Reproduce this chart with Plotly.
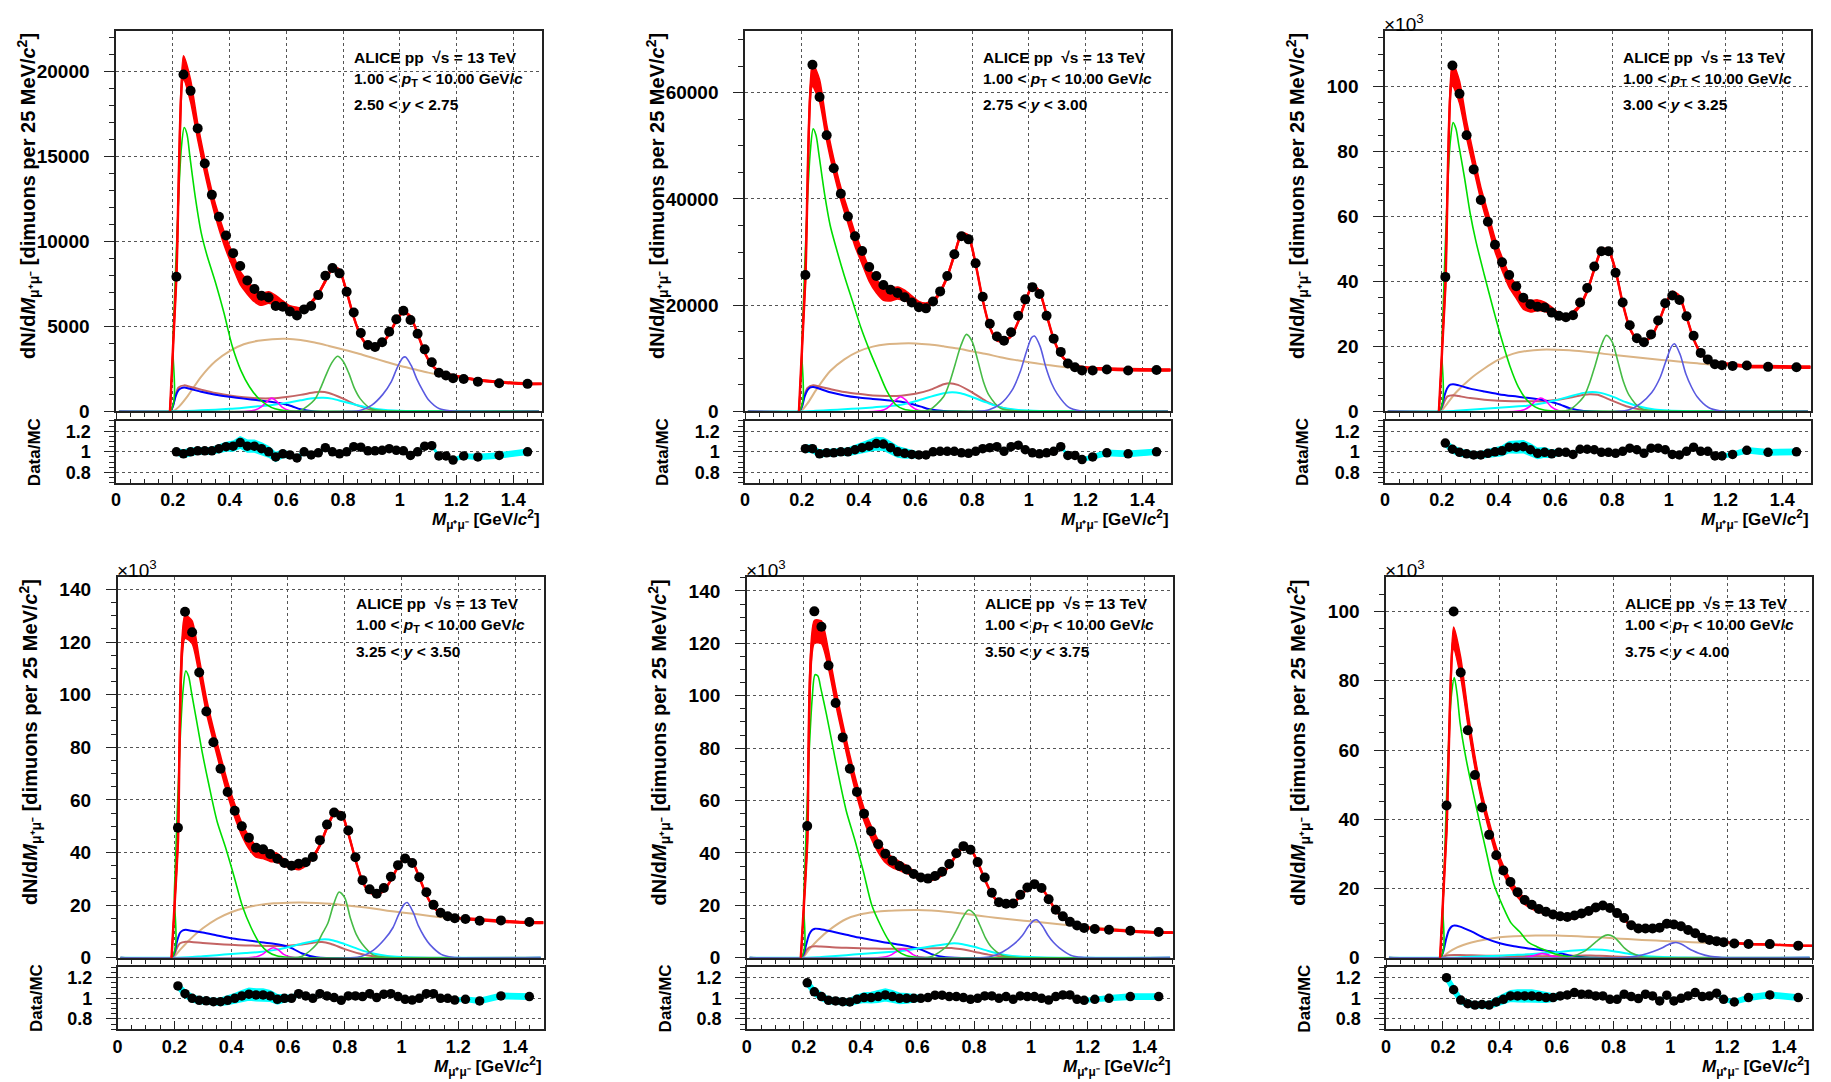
import plotly.graph_objects as go

# ---------------------------------------------------------------------------
# Dimuon invariant-mass spectra, pp at sqrt(s) = 13 TeV, six rapidity bins.
# All yields are in units of 10^3 dimuons per 25 MeV/c^2.
# ---------------------------------------------------------------------------

MASS_BINS = [0.2125, 0.2375, 0.2625, 0.2875, 0.3125, 0.3375, 0.3625, 0.3875, 0.4125, 0.4375,
             0.4625, 0.4875, 0.5125, 0.5375, 0.5625, 0.5875, 0.6125, 0.6375, 0.6625, 0.6875,
             0.7125, 0.7375, 0.7625, 0.7875, 0.8125, 0.8375, 0.8625, 0.8875, 0.9125, 0.9375,
             0.9625, 0.9875, 1.0125, 1.0375, 1.0625, 1.0875, 1.1125, 1.1375, 1.1625, 1.1875,
             1.225, 1.275, 1.35, 1.45]

RAPIDITY_LABELS = ["2.50 &lt; <i>y</i> &lt; 2.75", "2.75 &lt; <i>y</i> &lt; 3.00",
                   "3.00 &lt; <i>y</i> &lt; 3.25", "3.25 &lt; <i>y</i> &lt; 3.50",
                   "3.50 &lt; <i>y</i> &lt; 3.75", "3.75 &lt; <i>y</i> &lt; 4.00"]

# measured spectra
p1_data = [7.92, 19.82, 18.86, 16.65, 14.58, 12.74, 11.45, 10.35, 9.31, 8.55, 7.70, 7.20, 6.80, 6.70, 6.20,
           6.16, 5.88, 5.64, 6.00, 6.20, 6.84, 7.98, 8.43, 8.12, 7.04, 5.82, 4.61, 3.91, 3.79, 4.07, 4.69,
           5.42, 5.92, 5.38, 4.57, 3.65, 2.89, 2.27, 2.11, 1.95, 1.91, 1.75, 1.66, 1.62]
p2_data = [25.7, 65.3, 59.2, 52.0, 45.8, 41.0, 36.7, 33.0, 30.2, 27.2, 25.5, 23.8, 22.9, 22.3, 21.5, 20.5,
           19.6, 19.4, 20.7, 22.6, 25.5, 29.6, 33.0, 32.4, 27.9, 21.6, 16.5, 14.1, 13.3, 14.9, 18.0, 21.1,
           23.4, 22.1, 18.0, 13.7, 11.2, 9.0, 8.3, 7.7, 7.7, 7.9, 7.7, 7.8]
p3_data = [41.4, 106.5, 97.8, 85.0, 74.5, 65.1, 58.4, 51.3, 45.9, 42.0, 38.5, 35.0, 33.0, 32.2, 32.0, 30.4,
           29.4, 29.0, 29.6, 33.5, 38.0, 44.6, 49.3, 49.3, 42.7, 33.5, 26.5, 22.5, 21.3, 23.7, 28.0, 33.3,
           35.7, 34.3, 29.3, 23.3, 18.0, 16.0, 14.5, 14.2, 14.0, 14.1, 13.7, 13.6]
p4_data = [49.4, 131.5, 123.7, 108.4, 93.6, 81.9, 71.8, 63.0, 55.9, 50.0, 45.6, 41.8, 41.2, 39.4, 37.6, 36.0,
           35.0, 35.7, 36.3, 38.3, 44.7, 50.6, 55.2, 53.9, 48.4, 38.2, 29.5, 26.0, 24.3, 26.5, 30.8, 35.2,
           37.7, 36.0, 30.6, 24.9, 20.1, 17.1, 15.8, 15.0, 14.7, 14.1, 14.2, 13.6]
p5_data = [50.3, 132.2, 126.3, 111.5, 97.2, 84.1, 72.1, 63.3, 55.0, 48.3, 43.3, 39.7, 37.0, 35.0, 33.7, 32.0,
           30.6, 30.2, 31.2, 32.8, 35.8, 39.9, 42.6, 41.2, 36.5, 30.6, 24.8, 21.2, 20.6, 20.7, 24.0, 26.8,
           28.1, 26.6, 22.3, 18.3, 15.8, 13.7, 12.3, 11.4, 11.0, 10.7, 10.3, 9.8]
p6_data = [44.0, 100.0, 82.4, 65.7, 52.8, 43.4, 35.5, 29.6, 25.2, 21.9, 18.9, 16.7, 15.3, 14.1, 13.3, 12.5,
           12.0, 11.8, 12.2, 12.8, 13.5, 14.5, 15.1, 14.4, 12.9, 11.5, 9.4, 8.45, 8.45, 8.45, 8.7, 9.8,
           9.6, 9.1, 8.0, 7.1, 5.75, 5.15, 4.8, 4.5, 4.1, 4.0, 3.95, 3.5]

# data / MC ratios
p1_ratio = [1.0, 0.98, 1.0, 1.01, 1.01, 1.01, 1.03, 1.05, 1.055, 1.09, 1.055, 1.055, 1.03, 1.0, 0.95, 0.98,
            0.97, 0.94, 1.0, 0.97, 0.99, 1.04, 1.0, 0.98, 1.0, 1.05, 1.045, 1.01, 1.01, 1.015, 1.03, 1.015,
            1.01, 0.965, 1.0, 1.055, 1.06, 0.96, 0.96, 0.92, 0.96, 0.95, 0.965, 1.0]
p2_ratio = [1.03, 1.03, 0.98, 0.99, 0.99, 1.0, 1.0, 1.02, 1.04, 1.055, 1.08, 1.075, 1.04, 1.0, 0.985, 0.975,
            0.97, 0.97, 1.0, 1.005, 1.005, 1.005, 0.99, 0.985, 1.005, 1.03, 1.04, 1.05, 1.005, 1.05, 1.065,
            1.02, 0.99, 0.98, 0.99, 1.005, 1.05, 0.965, 0.965, 0.925, 0.95, 0.99, 0.98, 1.0]
p3_ratio = [1.085, 1.025, 0.995, 0.98, 0.97, 0.97, 0.985, 1.0, 1.01, 1.045, 1.045, 1.05, 1.02, 0.985, 0.995,
            0.98, 0.995, 0.995, 0.975, 1.025, 1.025, 1.02, 0.995, 0.995, 0.985, 1.005, 1.035, 1.02, 0.985,
            1.035, 1.035, 1.02, 0.975, 0.97, 1.005, 1.045, 1.005, 1.005, 0.96, 0.96, 0.975, 1.015, 0.995, 1.0]
p4_ratio = [1.12, 1.045, 1.0, 0.98, 0.975, 0.967, 0.967, 0.98, 1.0, 1.023, 1.04, 1.033, 1.033, 1.023, 0.99,
            1.0, 1.0, 1.045, 1.023, 1.0, 1.045, 1.023, 1.007, 0.98, 1.023, 1.023, 1.017, 1.045, 1.007, 1.04,
            1.045, 1.017, 0.99, 0.983, 1.0, 1.045, 1.045, 1.0, 1.0, 0.983, 0.99, 0.974, 1.023, 1.017]
p5_ratio = [1.15, 1.063, 1.017, 0.98, 0.974, 0.967, 0.964, 0.99, 1.007, 1.007, 1.017, 1.033, 1.017, 1.0, 1.0,
            1.0, 1.0, 1.007, 1.03, 1.03, 1.017, 1.017, 1.007, 0.99, 1.0, 1.023, 1.023, 1.0, 1.017, 0.99,
            1.023, 1.017, 1.017, 1.0, 0.983, 1.017, 1.033, 1.033, 0.99, 0.98, 0.99, 1.0, 1.017, 1.017]
p6_ratio = [1.2, 1.083, 0.983, 0.947, 0.934, 0.94, 0.934, 0.964, 0.99, 1.023, 1.023, 1.023, 1.023, 1.017,
            1.007, 1.007, 1.023, 1.033, 1.056, 1.04, 1.04, 1.023, 1.023, 0.99, 0.99, 1.04, 1.017, 0.997,
            1.04, 1.023, 0.974, 1.03, 0.974, 1.0, 1.023, 1.056, 1.017, 1.023, 1.05, 0.99, 0.964, 1.007,
            1.033, 1.007]

# relative uncertainty of the MC cocktail sum, per mass bin
MC_REL_UNC = [0.03, 0.035, 0.035, 0.03, 0.03, 0.03, 0.035, 0.04, 0.045, 0.05, 0.055, 0.055, 0.055, 0.05,
              0.045, 0.035, 0.025, 0.02, 0.015, 0.012,
              0.01, 0.01, 0.01, 0.01, 0.01, 0.01, 0.01, 0.01, 0.01, 0.01, 0.01, 0.01, 0.01, 0.01, 0.01,
              0.01, 0.01,
              0.012, 0.012, 0.015, 0.02, 0.025, 0.025, 0.025]

# --- cocktail components (mass knots shared by all rapidity bins) ----------
ETA_DALITZ_X = [0.01, 0.19, 0.20, 0.21, 0.22, 0.23, 0.24, 0.25, 0.26, 0.28, 0.30, 0.32, 0.35, 0.38, 0.41,
                0.44, 0.47, 0.50, 0.53, 0.56, 0.60, 0.65, 1.49]
p1_eta_dalitz = [0, 0, 4.0, 8.5, 12.5, 15.5, 16.7, 16.3, 15.0, 12.5, 10.5, 9.2, 7.6, 5.8, 3.8, 2.4, 1.45, 0.8, 0.4, 0.15, 0.03, 0, 0]
p2_eta_dalitz = [0, 0, 12, 27, 40, 49, 53.2, 52, 48.5, 41, 35, 31, 25.5, 20.5, 15.5, 11.3, 7.5, 3.8, 1.3, 0.4, 0.1, 0, 0]
p3_eta_dalitz = [0, 0, 20, 45, 68, 83, 88.9, 87, 82, 72, 61, 52.5, 42, 32, 22.5, 14, 7.5, 3.5, 1.3, 0.4, 0.1, 0, 0]
p4_eta_dalitz = [0, 0, 25, 55, 82, 101, 109, 107, 101, 89, 77, 66.5, 52, 42, 31, 19.5, 11.5, 5.5, 2.2, 0.8, 0.2, 0, 0]
p5_eta_dalitz = [0, 0, 22, 52, 80, 99, 108, 107.5, 103, 93, 82, 71, 56, 45, 33, 20, 12.5, 6.5, 2.6, 0.9, 0.2, 0, 0]
p6_eta_dalitz = [0, 0, 15, 40, 62, 76, 80.9, 76, 68, 58, 50, 42.5, 31.5, 21, 15, 10, 7.5, 4.5, 3.2, 2.2, 1.0, 0.3, 0]

OPEN_HF_X = [0.01, 0.19, 0.20, 0.22, 0.25, 0.30, 0.35, 0.40, 0.45, 0.50, 0.55, 0.60, 0.65, 0.70, 0.75, 0.80,
             0.85, 0.90, 0.95, 1.00, 1.05, 1.10, 1.15, 1.20, 1.30, 1.40, 1.49]
p1_open_hf = [0, 0, 0.0, 0.25, 0.85, 2.05, 2.95, 3.55, 3.95, 4.15, 4.25, 4.27, 4.2, 4.05, 3.85, 3.64, 3.42, 3.17, 2.92, 2.68, 2.48, 2.28, 2.12, 2.0, 1.81, 1.72, 1.63]
p2_open_hf = [0, 0, 0.2, 1.5, 4.0, 7.6, 9.8, 11.3, 12.2, 12.65, 12.8, 12.8, 12.6, 12.25, 11.85, 11.3, 10.8, 10.2, 9.7, 9.25, 8.85, 8.5, 8.2, 8.0, 7.85, 7.75, 7.7]
p3_open_hf = [0, 0, 0.3, 2.5, 5.8, 10.0, 13.2, 15.9, 17.7, 18.6, 19.0, 19.0, 18.85, 18.45, 17.95, 17.4, 16.95, 16.5, 16.05, 15.65, 15.2, 14.8, 14.4, 14.1, 13.8, 13.6, 13.5]
p4_open_hf = [0, 0, 0.5, 3.0, 6.5, 11.2, 14.8, 17.3, 19.0, 20.1, 20.7, 20.95, 21.0, 20.8, 20.5, 20.0, 19.4, 18.7, 17.9, 17.2, 16.6, 15.9, 15.3, 14.9, 14.1, 13.5, 13.1]
p5_open_hf = [0, 0, 0.5, 3.3, 6.8, 11.4, 14.8, 16.6, 17.5, 17.95, 18.15, 18.2, 18.0, 17.6, 17.0, 16.3, 15.6, 14.95, 14.4, 13.9, 13.4, 12.8, 12.3, 11.8, 11.0, 10.1, 9.6]
p6_open_hf = [0, 0, 0.3, 1.6, 3.0, 4.4, 5.3, 5.9, 6.2, 6.35, 6.45, 6.45, 6.3, 6.1, 5.9, 5.65, 5.4, 5.15, 4.95, 4.75, 4.6, 4.4, 4.25, 4.1, 3.85, 3.65, 3.5]

OMEGA_DALITZ_X = [0.01, 0.19, 0.20, 0.21, 0.22, 0.23, 0.24, 0.26, 0.30, 0.35, 0.40, 0.45, 0.50, 0.55, 0.60,
                  0.62, 0.65, 0.70, 1.49]
p1_omega_dalitz = [0, 0, 0.3, 0.9, 1.25, 1.37, 1.40, 1.33, 1.15, 0.98, 0.86, 0.75, 0.65, 0.55, 0.40, 0.30, 0.12, 0, 0]
p2_omega_dalitz = [0, 0, 0.8, 2.8, 4.0, 4.5, 4.6, 4.3, 3.6, 3.0, 2.6, 2.35, 2.1, 1.8, 1.2, 0.9, 0.4, 0.05, 0]
p3_omega_dalitz = [0, 0, 1.5, 5.0, 7.3, 8.2, 8.35, 8.0, 7.0, 6.1, 5.3, 4.7, 4.2, 3.6, 2.6, 2.0, 1.0, 0.1, 0]
p4_omega_dalitz = [0, 0, 2.0, 6.5, 9.5, 10.4, 10.6, 10.3, 9.6, 8.5, 7.4, 6.7, 6.0, 5.3, 4.2, 3.3, 1.6, 0.2, 0]
p5_omega_dalitz = [0, 0, 1.5, 5.5, 9.0, 10.6, 11.1, 10.9, 10.0, 8.8, 7.6, 6.6, 5.6, 4.8, 3.6, 2.8, 1.4, 0.2, 0]
p6_omega_dalitz = [0, 0, 1.5, 5.0, 7.8, 9.0, 9.3, 9.0, 7.6, 5.6, 4.2, 3.3, 2.7, 2.2, 1.6, 1.2, 0.6, 0.1, 0]

ETAP_DALITZ_X = [0.01, 0.19, 0.20, 0.21, 0.22, 0.24, 0.26, 0.30, 0.35, 0.40, 0.45, 0.50, 0.55, 0.60, 0.65,
                 0.70, 0.72, 0.75, 0.80, 0.85, 0.90, 0.95, 1.49]
p1_etap_dalitz = [0, 0, 0.3, 1.0, 1.4, 1.53, 1.45, 1.28, 1.08, 0.93, 0.83, 0.77, 0.77, 0.85, 0.97, 1.12, 1.15, 1.08, 0.75, 0.35, 0.1, 0.02, 0]
p2_etap_dalitz = [0, 0, 1.0, 3.2, 4.4, 4.9, 4.7, 4.2, 3.65, 3.3, 3.0, 2.9, 2.95, 3.3, 4.0, 5.1, 5.3, 5.0, 3.6, 1.9, 0.8, 0.2, 0]
p3_etap_dalitz = [0, 0, 1.0, 3.2, 4.6, 5.0, 4.7, 4.1, 3.6, 3.3, 3.15, 3.1, 3.15, 3.5, 4.2, 5.1, 5.3, 5.1, 3.3, 1.6, 0.6, 0.15, 0]
p4_etap_dalitz = [0, 0, 1.2, 4.0, 5.5, 6.1, 6.0, 5.6, 5.2, 4.9, 4.7, 4.55, 4.5, 4.6, 5.0, 5.9, 6.0, 5.3, 3.3, 1.6, 0.6, 0.15, 0]
p5_etap_dalitz = [0, 0, 0.8, 3.0, 4.0, 4.4, 4.3, 4.0, 3.8, 3.6, 3.5, 3.45, 3.45, 3.5, 3.65, 3.75, 3.7, 3.3, 2.3, 1.2, 0.5, 0.1, 0]
p6_etap_dalitz = [0, 0, 0.2, 0.6, 0.75, 0.8, 0.78, 0.7, 0.6, 0.55, 0.5, 0.48, 0.47, 0.5, 0.55, 0.65, 0.68, 0.6, 0.4, 0.2, 0.08, 0.02, 0]

ETA_MUMU_X = [0.01, 0.46, 0.49, 0.51, 0.53, 0.548, 0.565, 0.585, 0.61, 0.64, 1.49]
p1_eta_mumu = [0, 0, 0.08, 0.25, 0.55, 0.78, 0.6, 0.25, 0.05, 0, 0]
p2_eta_mumu = [0, 0, 0.3, 1.0, 2.1, 2.75, 2.2, 1.0, 0.2, 0, 0]
p3_eta_mumu = [0, 0, 0.5, 1.5, 3.2, 4.1, 3.4, 1.5, 0.3, 0, 0]
p4_eta_mumu = [0, 0, 0.4, 1.3, 2.9, 3.8, 3.1, 1.3, 0.3, 0, 0]
p5_eta_mumu = [0, 0, 0.4, 1.2, 2.6, 3.4, 2.8, 1.2, 0.25, 0, 0]
p6_eta_mumu = [0, 0, 0.1, 0.4, 0.9, 1.2, 1.0, 0.4, 0.08, 0, 0]

RHO_X = [0.01, 0.21, 0.25, 0.30, 0.35, 0.40, 0.45, 0.50, 0.55, 0.60, 0.65, 0.70, 0.73, 0.76, 0.80, 0.85,
         0.90, 0.95, 1.00, 1.05, 1.10, 1.49]
p1_rho = [0, 0, 0.02, 0.06, 0.1, 0.15, 0.22, 0.3, 0.38, 0.5, 0.65, 0.78, 0.8, 0.75, 0.58, 0.36, 0.18, 0.08, 0.04, 0.02, 0.01, 0]
p2_rho = [0, 0, 0.1, 0.25, 0.4, 0.55, 0.75, 0.95, 1.25, 1.9, 2.7, 3.4, 3.6, 3.4, 2.7, 1.7, 0.8, 0.35, 0.15, 0.08, 0.03, 0]
p3_rho = [0, 0, 0.2, 0.5, 0.8, 1.1, 1.4, 1.75, 2.4, 3.4, 4.6, 5.7, 6.0, 5.7, 4.6, 2.8, 1.4, 0.6, 0.25, 0.1, 0.05, 0]
p4_rho = [0, 0, 0.2, 0.6, 1.0, 1.4, 1.8, 2.2, 2.9, 4.0, 5.4, 6.6, 7.0, 6.6, 5.2, 3.2, 1.6, 0.7, 0.3, 0.12, 0.05, 0]
p5_rho = [0, 0, 0.2, 0.6, 1.0, 1.4, 1.8, 2.2, 2.7, 3.5, 4.4, 5.2, 5.5, 5.2, 4.2, 2.6, 1.3, 0.6, 0.25, 0.1, 0.05, 0]
p6_rho = [0, 0, 0.1, 0.3, 0.45, 0.6, 0.8, 1.0, 1.3, 1.6, 2.0, 2.3, 2.4, 2.3, 1.9, 1.2, 0.6, 0.3, 0.12, 0.05, 0.02, 0]

OMEGA_X = [0.01, 0.60, 0.65, 0.70, 0.72, 0.74, 0.76, 0.78, 0.80, 0.82, 0.84, 0.86, 0.90, 0.95, 1.49]
p1_omega = [0, 0, 0.05, 0.7, 1.35, 2.15, 2.85, 3.24, 2.95, 2.25, 1.35, 0.75, 0.15, 0.02, 0]
p2_omega = [0, 0, 0.3, 2.8, 5.3, 8.8, 12.3, 14.5, 13.2, 9.6, 5.6, 3.0, 0.6, 0.1, 0]
p3_omega = [0, 0, 0.5, 4.5, 8.5, 14.0, 19.8, 23.4, 21.5, 15.6, 9.2, 5.0, 1.0, 0.15, 0]
p4_omega = [0, 0, 0.6, 5.0, 9.0, 13.0, 20.0, 25.0, 22.8, 15.0, 9.0, 5.4, 1.1, 0.15, 0]
p5_omega = [0, 0, 0.5, 4.0, 7.0, 11.0, 15.3, 18.2, 16.8, 12.5, 7.6, 4.2, 0.9, 0.12, 0]
p6_omega = [0, 0, 0.3, 2.0, 3.3, 4.7, 6.0, 6.6, 6.1, 4.5, 2.7, 1.5, 0.3, 0.05, 0]

PHI_X = [0.01, 0.82, 0.86, 0.90, 0.94, 0.97, 0.99, 1.01, 1.02, 1.04, 1.06, 1.08, 1.10, 1.14, 1.18, 1.25, 1.49]
p1_phi = [0, 0, 0.05, 0.35, 1.0, 1.75, 2.55, 3.15, 3.2, 2.7, 1.9, 1.25, 0.7, 0.15, 0.03, 0, 0]
p2_phi = [0, 0, 0.3, 1.4, 3.9, 7.5, 11.0, 13.9, 14.2, 12.2, 8.3, 5.3, 3.3, 0.8, 0.1, 0, 0]
p3_phi = [0, 0, 0.5, 2.4, 5.8, 10.5, 15.5, 20.0, 20.8, 17.5, 11.6, 7.5, 4.5, 1.2, 0.2, 0, 0]
p4_phi = [0, 0, 0.6, 2.8, 7.0, 11.5, 16.5, 20.4, 21.0, 17.5, 12.0, 8.0, 5.0, 1.3, 0.2, 0, 0]
p5_phi = [0, 0, 0.5, 2.2, 5.2, 8.5, 11.8, 14.2, 14.5, 12.2, 8.6, 5.8, 3.8, 1.0, 0.15, 0, 0]
p6_phi = [0, 0, 0.2, 0.8, 1.8, 2.8, 3.7, 4.3, 4.4, 3.9, 2.9, 2.0, 1.3, 0.4, 0.08, 0, 0]

# ---------------------------------------------------------------------------
W, H = 1831, 1082
FONT = "Liberation Sans"

# pixel boxes: left, right, main top, main bottom, ratio top, ratio bottom
BOXES = [
    (111.4, 538.2, 31.0, 415.6, 425.3, 487.6),
    (742.1, 1168.9, 31.0, 415.6, 425.3, 487.6),
    (1383.8, 1810.6, 31.0, 415.6, 425.3, 487.6),
    (112.9, 540.0, 583.2, 967.6, 977.3, 1039.8),
    (743.9, 1171.1, 583.2, 967.6, 977.3, 1039.8),
    (1384.9, 1812.4, 583.2, 967.6, 977.3, 1039.8),
]
Y_MAX = [22.4, 71.7, 117.2, 144.6, 145.2, 109.9]
Y_MAJOR = [5, 20, 20, 20, 20, 20]
Y_MINOR = [1, 5, 5, 5, 5, 5]

COMPONENT_STYLE = [
    # name, knots, colour, width
    ("open_hf", OPEN_HF_X, "#dbb485", 2.0),
    ("etap_dalitz", ETAP_DALITZ_X, "#c46464", 2.0),
    ("omega_dalitz", OMEGA_DALITZ_X, "#0000ff", 2.0),
    ("rho", RHO_X, "#00ffff", 2.0),
    ("eta_mumu", ETA_MUMU_X, "#ff00ff", 1.6),
    ("eta_dalitz", ETA_DALITZ_X, "#00dd00", 1.6),
    ("omega", OMEGA_X, "#46bb46", 1.6),
    ("phi", PHI_X, "#5a5ae0", 1.6),
]

panel_values = [
    dict(data=p1_data, ratio=p1_ratio, eta_dalitz=p1_eta_dalitz, open_hf=p1_open_hf, omega_dalitz=p1_omega_dalitz,
         etap_dalitz=p1_etap_dalitz, eta_mumu=p1_eta_mumu, rho=p1_rho, omega=p1_omega, phi=p1_phi),
    dict(data=p2_data, ratio=p2_ratio, eta_dalitz=p2_eta_dalitz, open_hf=p2_open_hf, omega_dalitz=p2_omega_dalitz,
         etap_dalitz=p2_etap_dalitz, eta_mumu=p2_eta_mumu, rho=p2_rho, omega=p2_omega, phi=p2_phi),
    dict(data=p3_data, ratio=p3_ratio, eta_dalitz=p3_eta_dalitz, open_hf=p3_open_hf, omega_dalitz=p3_omega_dalitz,
         etap_dalitz=p3_etap_dalitz, eta_mumu=p3_eta_mumu, rho=p3_rho, omega=p3_omega, phi=p3_phi),
    dict(data=p4_data, ratio=p4_ratio, eta_dalitz=p4_eta_dalitz, open_hf=p4_open_hf, omega_dalitz=p4_omega_dalitz,
         etap_dalitz=p4_etap_dalitz, eta_mumu=p4_eta_mumu, rho=p4_rho, omega=p4_omega, phi=p4_phi),
    dict(data=p5_data, ratio=p5_ratio, eta_dalitz=p5_eta_dalitz, open_hf=p5_open_hf, omega_dalitz=p5_omega_dalitz,
         etap_dalitz=p5_etap_dalitz, eta_mumu=p5_eta_mumu, rho=p5_rho, omega=p5_omega, phi=p5_phi),
    dict(data=p6_data, ratio=p6_ratio, eta_dalitz=p6_eta_dalitz, open_hf=p6_open_hf, omega_dalitz=p6_omega_dalitz,
         etap_dalitz=p6_etap_dalitz, eta_mumu=p6_eta_mumu, rho=p6_rho, omega=p6_omega, phi=p6_phi),
]

for pv in panel_values:
    assert len(pv["data"]) == len(MASS_BINS) and len(pv["ratio"]) == len(MASS_BINS)
    for name, xs, _, _ in COMPONENT_STYLE:
        assert len(pv[name]) == len(xs), name
assert len(MC_REL_UNC) == len(MASS_BINS)


def px_x(px):
    return px / W


def px_y(py):
    return 1 - py / H


fig = go.Figure()
layout = {}
notes = []

grid = dict(showgrid=True, griddash="dot", gridcolor="#555555", gridwidth=1)
frame = dict(showline=True, mirror=True, linecolor="#222222", linewidth=1.5, zeroline=False)

for i, pv in enumerate(panel_values):
    left, right, top, bottom, rtop, rbot = BOXES[i]
    m, r = 2 * i + 1, 2 * i + 2
    mx, my = ("x", "y") if m == 1 else (f"x{m}", f"y{m}")
    rx, ry = f"x{r}", f"y{r}"

    # cocktail components
    for name, xs, color, width in COMPONENT_STYLE:
        fig.add_trace(go.Scatter(x=xs, y=pv[name], mode="lines", xaxis=mx, yaxis=my, hoverinfo="skip",
                                 line=dict(color=color, width=width, shape="spline", smoothing=0.8)))

    # MC sum with its uncertainty band (MC = data / (data/MC))
    mc = [d / q for d, q in zip(pv["data"], pv["ratio"])]
    x_mc = [0.19] + MASS_BINS + [1.5]
    mc_c = [0.0] + mc + [mc[-1]]
    unc = [0.0] + MC_REL_UNC + [MC_REL_UNC[-1]]
    lo = [v * (1 - u) for v, u in zip(mc_c, unc)]
    hi = [v * (1 + u) for v, u in zip(mc_c, unc)]
    fig.add_trace(go.Scatter(x=x_mc, y=lo, mode="lines", xaxis=mx, yaxis=my, hoverinfo="skip",
                             line=dict(color="#ff0000", width=1.5, shape="spline", smoothing=0.6)))
    fig.add_trace(go.Scatter(x=x_mc, y=hi, mode="lines", xaxis=mx, yaxis=my, hoverinfo="skip",
                             fill="tonexty", fillcolor="#ff0000",
                             line=dict(color="#ff0000", width=1.5, shape="spline", smoothing=0.6)))
    fig.add_trace(go.Scatter(x=x_mc, y=mc_c, mode="lines", xaxis=mx, yaxis=my, hoverinfo="skip",
                             line=dict(color="#ff0000", width=2.5, shape="spline", smoothing=0.6)))

    # data points
    fig.add_trace(go.Scatter(x=MASS_BINS, y=pv["data"], mode="markers", xaxis=mx, yaxis=my, hoverinfo="skip",
                             marker=dict(color="black", size=10, symbol="circle")))

    # ratio panel: MC uncertainty band around data/MC, then points
    rlo = [q * (1 - u) for q, u in zip(pv["ratio"], MC_REL_UNC)]
    rhi = [q * (1 + u) for q, u in zip(pv["ratio"], MC_REL_UNC)]
    fig.add_trace(go.Scatter(x=MASS_BINS, y=rlo, mode="lines", xaxis=rx, yaxis=ry, hoverinfo="skip",
                             line=dict(color="#00ffff", width=1.5)))
    fig.add_trace(go.Scatter(x=MASS_BINS, y=rhi, mode="lines", xaxis=rx, yaxis=ry, hoverinfo="skip",
                             fill="tonexty", fillcolor="#00ffff", line=dict(color="#00ffff", width=1.5)))
    fig.add_trace(go.Scatter(x=MASS_BINS, y=pv["ratio"], mode="markers", xaxis=rx, yaxis=ry, hoverinfo="skip",
                             marker=dict(color="black", size=9.5, symbol="circle")))

    # axes
    dom_x = [px_x(left), px_x(right)]
    yticks = list(range(0, int(Y_MAX[i]) + 1, Y_MAJOR[i]))
    if i < 2:
        ytext = [str(v * 1000) for v in yticks]
    else:
        ytext = [str(v) for v in yticks]
    layout["xaxis" if m == 1 else f"xaxis{m}"] = dict(
        domain=dom_x, anchor=my, range=[0, 1.5], tickmode="linear", tick0=0, dtick=0.2,
        showticklabels=False, ticks="outside", ticklen=8, tickwidth=1.2, tickcolor="#222222",
        minor=dict(tickmode="linear", tick0=0, dtick=0.05, ticks="outside", ticklen=4, tickcolor="#222222",
                   showgrid=False),
        **grid, **frame)
    layout["yaxis" if m == 1 else f"yaxis{m}"] = dict(
        domain=[px_y(bottom), px_y(top)], anchor=mx, range=[0, Y_MAX[i]],
        tickmode="array", tickvals=yticks, ticktext=ytext,
        ticks="outside", ticklen=10, tickwidth=1.2, tickcolor="#222222", ticklabelstandoff=11,
        tickfont=dict(family=FONT, size=19, color="black", weight="bold"),
        minor=dict(tickmode="linear", tick0=0, dtick=Y_MINOR[i], ticks="outside", ticklen=5,
                   tickcolor="#222222", showgrid=False),
        **grid, **frame)
    layout[f"xaxis{r}"] = dict(
        domain=dom_x, anchor=ry, range=[0, 1.5], tickmode="linear", tick0=0, dtick=0.2,
        ticks="inside", ticklen=8, tickwidth=1.2, tickcolor="#222222",
        tickfont=dict(family=FONT, size=18, color="black", weight="bold"),
        minor=dict(tickmode="linear", tick0=0, dtick=0.05, ticks="inside", ticklen=4, tickcolor="#222222",
                   showgrid=False),
        showgrid=False, **frame)
    layout[f"yaxis{r}"] = dict(
        domain=[px_y(rbot), px_y(rtop)], anchor=rx, range=[0.7, 1.3],
        tickmode="array", tickvals=[0.8, 1.0, 1.2], ticktext=["0.8", "1", "1.2"],
        ticks="outside", ticklen=10, tickwidth=1.2, tickcolor="#222222", ticklabelstandoff=10,
        tickfont=dict(family=FONT, size=18, color="black", weight="bold"),
        minor=dict(tickmode="linear", tick0=0.7, dtick=0.05, ticks="outside", ticklen=5,
                   tickcolor="#222222", showgrid=False),
        **grid, **frame)

    # labels
    tx = left + 0.555 * (right - left)
    txt_font = dict(family=FONT, size=15.5, color="black", weight="bold")
    for dy, text in [(27, "ALICE pp  √s = 13 TeV"),
                     (49, "1.00 &lt; <i>p</i><sub>T</sub> &lt; 10.00 GeV/<i>c</i>"),
                     (75, RAPIDITY_LABELS[i])]:
        notes.append(dict(x=px_x(tx), y=px_y(top + dy), xref="paper", yref="paper", text=text,
                          showarrow=False, xanchor="left", yanchor="middle", font=txt_font))
    if i >= 2:
        notes.append(dict(x=px_x(left - 3), y=px_y(top - 8), xref="paper", yref="paper",
                          text="×10<sup>3</sup>", showarrow=False, xanchor="left", yanchor="middle",
                          font=dict(family=FONT, size=19, color="black")))
    notes.append(dict(x=px_x(left - 88), y=px_y(top), xref="paper", yref="paper", textangle=-90,
                      text="dN/d<i>M</i><sub>μ⁺μ⁻</sub> [dimuons per 25 MeV/<i>c</i><sup>2</sup>]",
                      showarrow=False, xanchor="center", yanchor="top",
                      font=dict(family=FONT, size=20, color="black", weight="bold")))
    notes.append(dict(x=px_x(left - 82), y=px_y((rtop + rbot) / 2), xref="paper", yref="paper",
                      textangle=-90, text="Data/MC", showarrow=False, xanchor="center", yanchor="middle",
                      font=dict(family=FONT, size=17, color="black", weight="bold")))
    notes.append(dict(x=px_x(right), y=px_y(rbot + 23), xref="paper", yref="paper",
                      text="<i>M</i><sub>μ⁺μ⁻</sub> [GeV/<i>c</i><sup>2</sup>]", showarrow=False,
                      xanchor="right", yanchor="top",
                      font=dict(family=FONT, size=17, color="black", weight="bold")))

fig.update_layout(
    width=W, height=H, margin=dict(l=0, r=0, t=0, b=0),
    paper_bgcolor="white", plot_bgcolor="white", showlegend=False,
    font=dict(family=FONT, color="black"),
    annotations=notes, **layout)

fig.write_html("out.html")
